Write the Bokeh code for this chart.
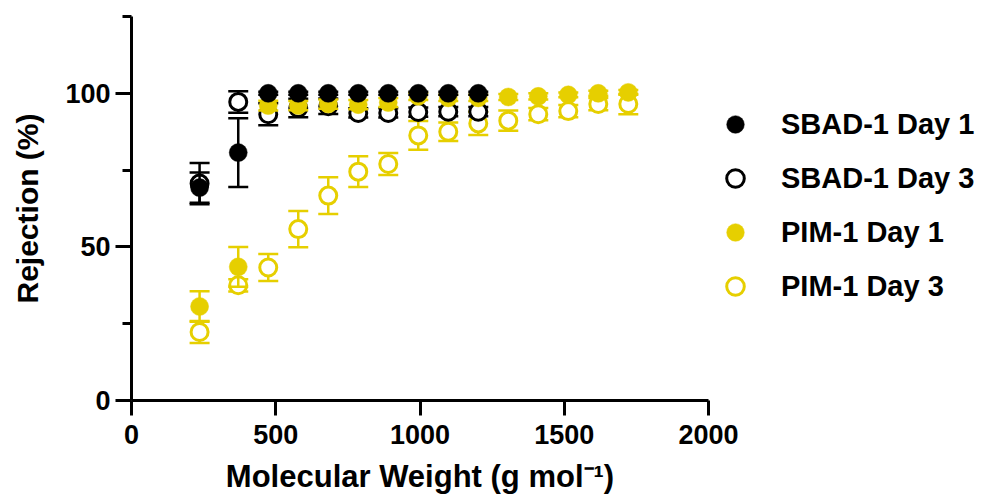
from bokeh.plotting import figure
from bokeh.models import Legend, LegendItem, FixedTicker, ColumnDataSource
from bokeh.embed import file_html
from bokeh.resources import INLINE

# ---- data ----
mw = [236, 370, 474, 578, 682, 786, 890, 994, 1098, 1202, 1306, 1410, 1514, 1618, 1722]

sbad_d1 = [69.3, 80.7, 100.0, 100.0, 100.0, 100.0, 100.0, 100.0, 100.0, 100.0]
sbad_d1_err = [4.9, 11.2, 0.5, 0.5, 0.5, 0.5, 0.5, 0.5, 0.5, 0.5]

sbad_d3 = [70.6, 97.2, 93.2, 95.2, 95.8, 93.6, 93.6, 93.9, 94.0, 94.0]
sbad_d3_err = [6.7, 3.5, 3.6, 3.0, 2.5, 1.5, 1.5, 1.5, 1.5, 1.5]

pim_d1 = [30.6, 43.5, 96.0, 96.0, 96.5, 96.3, 97.0, 99.0, 98.5, 98.5, 98.8, 99.0, 99.5, 100.0, 100.3]
pim_d1_err = [5.0, 6.5, 1.6, 1.5, 1.5, 1.5, 1.5, 1.2, 1.0, 1.0, 1.0, 1.0, 0.8, 0.8, 0.8]

pim_d3 = [22.3, 37.5, 43.3, 55.8, 66.7, 74.5, 77.0, 86.3, 87.5, 90.2, 91.1, 93.2, 94.2, 96.5, 96.5]
pim_d3_err = [3.6, 2.0, 4.4, 5.9, 6.0, 5.0, 3.6, 4.7, 3.0, 3.8, 3.3, 2.0, 2.0, 2.0, 3.3]

labels = ["SBAD-1 Day 1", "SBAD-1 Day 3", "PIM-1 Day 1", "PIM-1 Day 3"]
x_ticks = [0, 500, 1000, 1500, 2000]
y_ticks = [0, 50, 100]
y_minor = [25, 75, 125]

BLACK = "#000000"
YELLOW = "#E6CF00"
FONT = "Liberation Sans"

p = figure(frame_width=577, frame_height=384, output_backend="svg", toolbar_location=None,
           x_range=(0, 2000), y_range=(0, 125),
           min_border_left=131, min_border_right=284, min_border_top=16, min_border_bottom=98)
p.outline_line_color = None
p.xgrid.visible = False
p.ygrid.visible = False
p.background_fill_color = "white"
p.border_fill_color = "white"


def series(x, y, err, color, filled):
    n = len(y)
    xs = x[:n]
    lo = [v - e for v, e in zip(y, err)]
    hi = [v + e for v, e in zip(y, err)]
    src = ColumnDataSource(dict(x=xs, y=y, lo=lo, hi=hi))
    p.segment(x0="x", y0="lo", x1="x", y1="hi", source=src, line_color=color, line_width=2.5)
    p.scatter(x="x", y="lo", source=src, marker="dash", size=20, line_color=color, line_width=2.5)
    p.scatter(x="x", y="hi", source=src, marker="dash", size=20, line_color=color, line_width=2.5)
    if filled:
        r = p.scatter(x="x", y="y", source=src, marker="circle", size=18,
                      fill_color=color, line_color=color, line_width=0.5)
    else:
        r = p.scatter(x="x", y="y", source=src, marker="circle", size=17,
                      fill_color="white", line_color=color, line_width=3)
    return r


r_pim3 = series(mw, pim_d3, pim_d3_err, YELLOW, False)
r_sbad3 = series(mw, sbad_d3, sbad_d3_err, BLACK, False)
r_pim1 = series(mw, pim_d1, pim_d1_err, YELLOW, True)
r_sbad1 = series(mw, sbad_d1, sbad_d1_err, BLACK, True)

# axes
for ax in (p.xaxis[0], p.yaxis[0]):
    ax.axis_line_width = 3
    ax.major_tick_line_width = 3
    ax.minor_tick_line_width = 3
    ax.major_tick_in = 0
    ax.minor_tick_in = 0
    ax.major_label_text_font = FONT
    ax.major_label_text_font_style = "bold"
    ax.major_label_text_font_size = "27px"
    ax.major_label_text_color = "black"
    ax.axis_label_text_font = FONT
    ax.axis_label_text_font_style = "bold"
    ax.axis_label_text_color = "black"

p.xaxis.ticker = FixedTicker(ticks=x_ticks)
p.xaxis.major_tick_out = 15
p.xaxis.minor_tick_out = 0
p.xaxis.major_label_standoff = 9
p.xaxis.axis_label = "Molecular Weight (g mol\u207b\u00b9)"
p.xaxis.axis_label_text_font_size = "31px"
p.xaxis.axis_label_standoff = 12

p.yaxis.ticker = FixedTicker(ticks=y_ticks, minor_ticks=y_minor)
p.yaxis.major_tick_out = 16
p.yaxis.minor_tick_out = 9
p.yaxis.major_label_standoff = 5
p.yaxis.axis_label = "Rejection (%)"
p.yaxis.axis_label_text_font_size = "30px"
p.yaxis.axis_label_standoff = 18

legend = Legend(items=[
    LegendItem(label=labels[0], renderers=[r_sbad1]),
    LegendItem(label=labels[1], renderers=[r_sbad3]),
    LegendItem(label=labels[2], renderers=[r_pim1]),
    LegendItem(label=labels[3], renderers=[r_pim3]),
], location=(5, 92), orientation="vertical")
legend.glyph_width = 44
legend.glyph_height = 44
legend.label_height = 44
legend.spacing = 10
legend.padding = 0
legend.margin = 0
legend.label_standoff = 24
legend.label_text_font = FONT
legend.label_text_font_style = "bold"
legend.label_text_font_size = "29px"
legend.label_text_color = "black"
legend.border_line_color = None
legend.background_fill_alpha = 0
p.add_layout(legend, "right")

open("out.html", "w").write(file_html(p, INLINE))
